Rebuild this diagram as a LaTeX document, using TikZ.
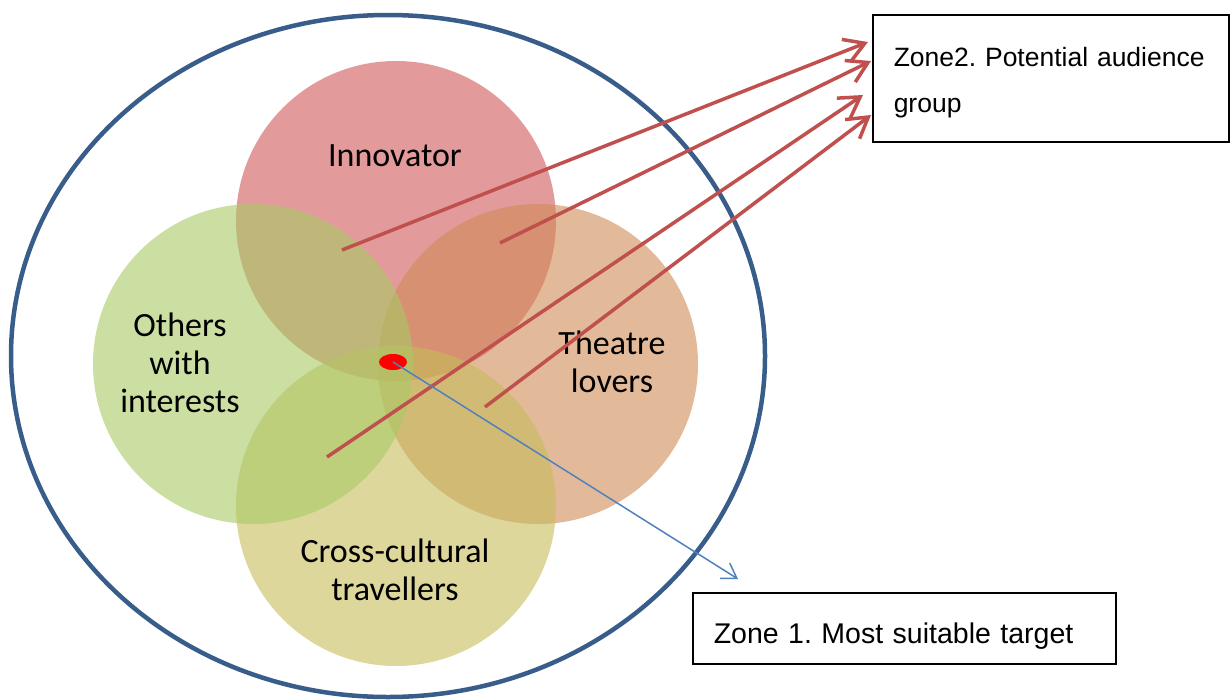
\documentclass[tikz,border=0pt]{standalone}
\usepackage{fontspec}
\setmainfont{Carlito}
\newfontfamily\boxfont{Liberation Sans}
\usepackage{tikz}
\usetikzlibrary{positioning, arrows.meta, shapes.geometric}
\definecolor{innocol}{RGB}{208,87,87}
\definecolor{otherscol}{RGB}{168,202,102}
\definecolor{theatrecol}{RGB}{207,140,87}
\definecolor{crosscol}{RGB}{198,188,90}
\definecolor{arrowred}{RGB}{192,80,77}
\definecolor{arrowblue}{RGB}{79,129,189}
\definecolor{outerblue}{RGB}{56,93,138}
\tikzset{
venn/.style={
  circle, 
  minimum size=320pt, 
  inner sep=0pt, fill opacity=0.6
  }, 
vennlabel/.style={
  align=center, 
  font=\fontsize{34}{38}\selectfont
  }, 
zonebox/.style={
  draw, 
  rectangle, 
  line width=1.5pt, inner xsep=21pt, inner ysep=0pt, align=left, 
  font=\boxfont\fontsize{26.5}{46}\selectfont\frenchspacing
  }, 
redline/.style={-{Straight Barb[length=20pt,width=24pt]}, draw=arrowred, line width=3.5pt}, 
blueline/.style={-{Straight Barb[length=14pt,width=18pt]}, draw=arrowblue, line width=1.5pt}
}
\begin{document}
\begin{tikzpicture}[x=1pt, y=-1pt]
\useasboundingbox (0,0) rectangle (1230,699);

\node[ellipse, draw=outerblue, line width=4.5pt, minimum width=754pt, minimum height=682pt, inner sep=0pt]	(audience)	at (388,356)	{};

\node[venn, fill=innocol]		(innovator)	at (396,221)	{};
\node[venn, fill=theatrecol]	(theatre)	at (538,364)	{};
\node[venn, fill=crosscol]		(cross)		at (396,506)	{};
\node[venn, fill=otherscol]	(others)		at (253,364)	{};

\node[vennlabel, anchor=base]	(innovatortext)	at (395,166)	{Innovator};
\node[vennlabel]	(otherstext)		at (180,363)	{Others\\with\\interests};
\node[vennlabel]	(theatretext)	at (612,362)	{Theatre\\lovers};
\node[vennlabel]	(crosstext)		at (395,570)	{Cross-cultural\\travellers};

\node[ellipse, fill=red, minimum width=28pt, minimum height=16pt, inner sep=0pt]	(core)	at (393,362)	{};

\node[zonebox, anchor=north west, text width=314pt, minimum height=127pt, text height=29pt, text depth=52pt]	(zonetwo)	at (872,14)	{\mbox{Zone2. Potential audience}\\\mbox{group}};
\node[zonebox, anchor=north west, text width=381pt, minimum height=71pt, text height=37pt, text depth=6pt, font=\boxfont\fontsize{28.5}{34}\selectfont\frenchspacing]	(zoneone)	at (692,592)	{\mbox{Zone 1. Most suitable target}};

\coordinate (inno-others)	at (342,250);
\coordinate (inno-theatre)	at (500,243);
\coordinate (others-cross)	at (327,457);
\coordinate (theatre-cross)	at (485,407);
\coordinate (tipone)		at (868,42);
\coordinate (tiptwo)		at (871,61);
\coordinate (tipthree)		at (863,95);
\coordinate (tipfour)		at (871,115);
\coordinate (zoneonetip)	at (738,579);

\draw[redline]	(inno-others)		--	(tipone);
\draw[redline]	(inno-theatre)		--	(tiptwo);
\draw[redline]	(others-cross)		--	(tipthree);
\draw[redline]	(theatre-cross)	--	(tipfour);
\draw[blueline]	(core.center)		--	(zoneonetip);
\end{tikzpicture}
\end{document}
